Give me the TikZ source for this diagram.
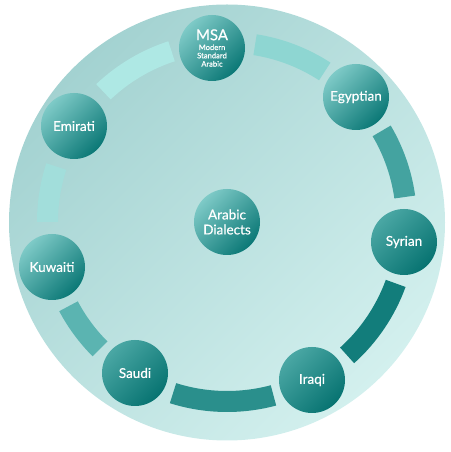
\documentclass[tikz,border=0pt]{standalone}
\usepackage{fontspec}
\setmainfont{Lato}
\newfontfamily\labelfont{Lato}[FakeBold=0.5]
\begin{document}
\begin{tikzpicture}[x=1pt,y=1pt,
  bubble/.style 2 args={circle, minimum size=66pt, inner sep=0pt, text=white,
    align=center, font=\labelfont\fontsize{13.5}{15}\selectfont,
    top color=#1, bottom color=#2, shading angle=45}]
% palette
\definecolor{discA}{HTML}{A3D2D1}
\definecolor{discB}{HTML}{D3F0EE}
\definecolor{bandA}{HTML}{AEE8E4}
\definecolor{bandB}{HTML}{8ED6D2}
\definecolor{bandC}{HTML}{44A3A0}
\definecolor{bandD}{HTML}{127D7B}
\definecolor{bandE}{HTML}{2A8F8C}
\definecolor{bandF}{HTML}{5BB4B1}
\definecolor{bandG}{HTML}{A2DEDB}
\definecolor{tealLight}{HTML}{7ECAC7}
\definecolor{tealMid}{HTML}{4AA7A4}
\definecolor{tealDark}{HTML}{0B7876}
\definecolor{tealDeep}{HTML}{077371}

\useasboundingbox (0,0) rectangle (450,452);

% outer disc
\shade[top color=discA, bottom color=discB, shading angle=45] (227,229.5) circle[radius=218];

% ring of coloured bands around the centre
\coordinate (c) at (227,230);
\newcommand{\ringband}[3]{%
  \fill[#3] ([shift={(#1:190)}]c) arc[start angle=#1, end angle=#2, radius=190]
    -- ([shift={(#2:169)}]c) arc[start angle=#2, end angle=#1, radius=169] -- cycle;}
\ringband{108}{133.5}{bandA}
\ringband{57}{81}{bandB}
\ringband{8}{30.5}{bandC}
\ringband{-48}{-20}{bandD}
\ringband{-107.5}{-75}{bandE}
\ringband{-152}{-135}{bandF}
\ringband{162}{180}{bandG}

% dialect bubbles
\node[bubble={tealLight}{tealDark}, font=\labelfont\fontsize{7.6}{8.3}\selectfont] (msa) at (212,404)
  {{\fontsize{15}{15}\selectfont MSA}\\[1.5pt]Modern\\Standard\\Arabic};
\node[bubble={tealLight}{tealDark}] (egy) at (356,355) {Egyptian};
\node[bubble={tealMid}{tealDeep}] (syr) at (404,210) {Syrian};
\node[bubble={tealMid}{tealDeep}] (irq) at (312,72) {Iraqi};
\node[bubble={tealMid}{tealDeep}] (sau) at (135,79) {Saudi};
\node[bubble={tealLight}{tealDark}] (kuw) at (52,185) {Kuwaiti};
\node[bubble={tealLight}{tealDark}] (emi) at (74,326) {Emirati};
\node[bubble={tealLight}{tealDark}] (ara) at (227,230) {Arabic\\Dialects};
\end{tikzpicture}
\end{document}
